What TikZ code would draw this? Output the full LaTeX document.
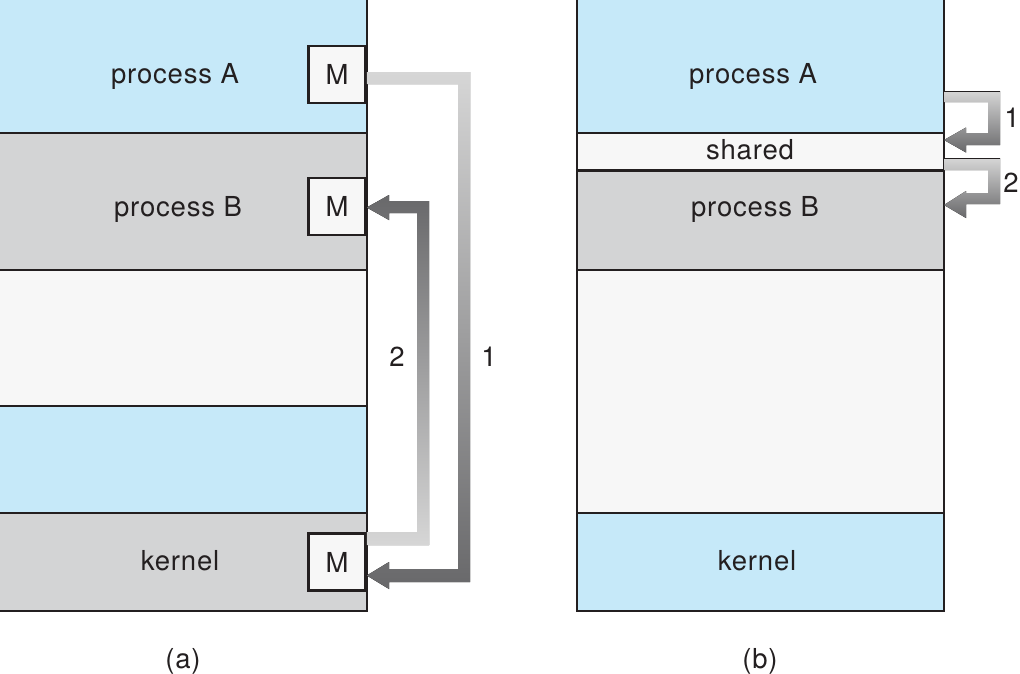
\documentclass[tikz,border=0pt]{standalone}
\usepackage{fontspec}
\setmainfont{TeX Gyre Heros}
\newfontfamily\lblfont[LetterSpace=3]{TeX Gyre Heros}
\usetikzlibrary{calc}
\definecolor{memblue}{HTML}{C6E9F9}
\definecolor{memgray}{HTML}{D3D4D5}
\definecolor{memwhite}{HTML}{F7F7F7}
\definecolor{edgec}{HTML}{231F20}
\definecolor{arrlight}{HTML}{D6D6D6}
\definecolor{arrdark}{HTML}{68686A}
\begin{document}
\begin{tikzpicture}[x=1pt,y=-1pt,
  row/.style={draw=edgec, line width=1.5pt, inner sep=0pt, outer sep=0pt, anchor=north west},
  lbl/.style={font=\lblfont\fontsize{27.5}{32}\selectfont, text=edgec, inner sep=0pt, anchor=base},
  mbox/.style={draw=edgec, line width=2.5pt, fill=memwhite, minimum size=57pt, inner sep=0pt, outer sep=1.25pt, font=\lblfont\fontsize{27.5}{32}\selectfont, text=edgec},
  arrdown/.style={top color=arrlight, bottom color=arrdark},
  arrup/.style={top color=arrdark, bottom color=arrlight}
]
\useasboundingbox (0,0) rectangle (1020,673);
\fill[white] (0,0) rectangle (1020,673);

% ---------- panel (a) ----------
\node[row, fill=memblue,  minimum width=369pt, minimum height=135pt] (aA) at (-2,-2) {};
\node[row, fill=memgray,  minimum width=369pt, minimum height=137pt] (aB) at (-2,133) {};
\node[row, fill=memwhite, minimum width=369pt, minimum height=136pt] (aC) at (-2,270) {};
\node[row, fill=memblue,  minimum width=369pt, minimum height=107pt] (aD) at (-2,406) {};
\node[row, fill=memgray,  minimum width=369pt, minimum height=98pt]  (aK) at (-2,513) {};

\node[lbl] (tA) at (175,83) {process A};
\node[lbl] (tB) at (178,216) {process B};
\node[lbl] (tK) at (180,570) {kernel};
\node[lbl] (ta) at (183,668) {(a)};

\node[mbox] (mA) at (337,74.5) {M};
\node[mbox] (mB) at (337,206.5) {M};
\node[mbox] (mK) at (337,562) {M};

% arrow 1: process A -> kernel
\fill[arrdown] ($(mA.east)+(0,-2.5)$) -- (470,72) -- (470,582) -- (389,582) -- (389,589)
  -- ($(mK.east)+(0,13.5)$) -- (389,562) -- (389,569) -- (458,569) -- (458,84)
  -- ($(mA.east)+(0,9.5)$) -- cycle;
% arrow 2: kernel -> process B
\fill[arrup] ($(mK.east)+(0,-30)$) -- (417,532) -- (417,213) -- (389,213) -- (389,220)
  -- ($(mB.east)+(0,1)$) -- (389,195) -- (389,201) -- (429,201) -- (429,545)
  -- ($(mK.east)+(0,-17)$) -- cycle;

\node[lbl] (n2a) at (397,366) {2};
\node[lbl] (n1a) at (489,366) {1};

% ---------- panel (b) ----------
\node[row, fill=memblue,  minimum width=367pt, minimum height=135pt] (bA) at (577,-2) {};
\node[row, fill=memwhite, minimum width=367pt, minimum height=37pt]  (bS) at (577,133) {};
\node[row, fill=memgray,  minimum width=367pt, minimum height=100pt] (bB) at (577,170) {};
\node[row, fill=memwhite, minimum width=367pt, minimum height=243pt] (bC) at (577,270) {};
\node[row, fill=memblue,  minimum width=367pt, minimum height=98pt]  (bK) at (577,513) {};
\draw[edgec, line width=3pt] (bB.north west) -- (bB.north east);

\node[lbl] (uA) at (753,83) {process A};
\node[lbl] (uS) at (750,159) {shared};
\node[lbl] (uB) at (755,216) {process B};
\node[lbl] (uK) at (757,570) {kernel};
\node[lbl] (ub) at (760,668) {(b)};

% arrow 1: process A -> shared
\fill[arrdown] ($(bA.south east)+(0,-42)$) -- (1000,91) -- (1000,145) -- (966,145) -- (966,152.5)
  -- ($(bS.north east)+(0,7)$) -- (966,127.5) -- (966,133) -- (988,133) -- (988,102)
  -- ($(bA.south east)+(0,-31)$) -- cycle;
\draw[edgec, line width=1pt] ($(bA.south east)+(0,-42)$) -- (1000,91);
% arrow 2: shared -> process B
\fill[arrdown] ($(bS.north east)+(0,25)$) -- (1000,158) -- (1000,204) -- (966,204) -- (966,218)
  -- ($(bB.north east)+(0,35)$) -- (966,191) -- (966,193) -- (988,193) -- (988,170)
  -- ($(bS.north east)+(0,37)$) -- cycle;
\draw[edgec, line width=1pt] ($(bS.north east)+(0,25)$) -- (1000,158);

\node[lbl] (n1b) at (1012,127) {1};
\node[lbl] (n2b) at (1011,192) {2};
\end{tikzpicture}
\end{document}
